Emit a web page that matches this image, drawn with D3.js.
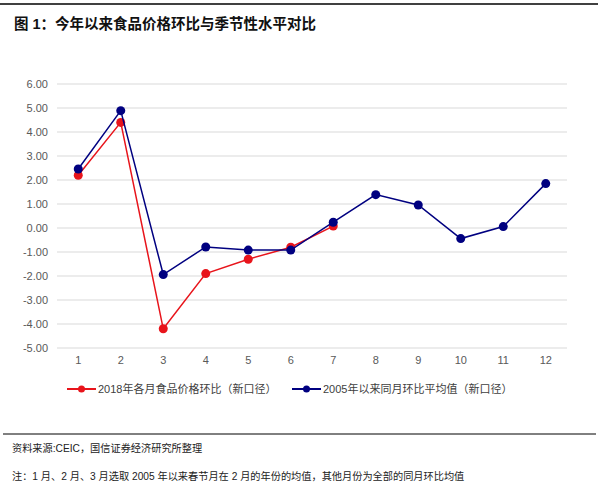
<!DOCTYPE html>
<html>
<head>
<meta charset="utf-8">
<script src="https://cdn.jsdelivr.net/npm/d3@7"></script>
<style>
  body { margin: 0; background: #fff; }
  text { font-family: "Liberation Sans", Arial, "Noto Sans CJK SC", sans-serif; }
</style>
</head>
<body>
<div id="chart"></div>
<script>
// months on the x axis
const months = ["1", "2", "3", "4", "5", "6", "7", "8", "9", "10", "11", "12"];
// 2018 monthly food price mom (only Jan-Jul)
const food2018 = [2.2, 4.4, -4.2, -1.9, -1.3, -0.8, 0.08];
// average mom of the same month since 2005
const avgSince2005 = [2.46, 4.89, -1.94, -0.79, -0.92, -0.92, 0.24, 1.39, 0.96, -0.44, 0.06, 1.85];
const yTicks = [6, 5, 4, 3, 2, 1, 0, -1, -2, -3, -4, -5];

const W = 598, H = 490;
const svg = d3.select("#chart").append("svg")
  .attr("width", W)
  .attr("height", H);

// header / footer rules
svg.append("line").attr("x1", 0).attr("x2", W).attr("y1", 4).attr("y2", 4)
  .attr("stroke", "#000").attr("stroke-width", 1.5);
svg.append("text").attr("x", 14).attr("y", 29)
  .attr("font-size", 14.5).attr("font-weight", "bold").attr("fill", "#111")
  .text("图 1：今年以来食品价格环比与季节性水平对比");

const x = d3.scaleBand().domain(months).range([57, 567]);
const y = d3.scaleLinear().domain([-5, 6]).range([348, 84]);

// gridlines
svg.append("g").selectAll("line")
  .data(yTicks)
  .enter()
  .append("line")
  .attr("x1", 57).attr("x2", 567)
  .attr("y1", (d) => y(d)).attr("y2", (d) => y(d))
  .attr("stroke", "#d9d9d9").attr("stroke-width", 1);

// y labels
svg.append("g").selectAll("text")
  .data(yTicks)
  .enter()
  .append("text")
  .attr("x", 48)
  .attr("y", (d) => y(d) + 4)
  .attr("text-anchor", "end")
  .attr("font-size", 11)
  .attr("fill", "#595959")
  .text((d) => d.toFixed(2));

// x labels
svg.append("g").selectAll("text")
  .data(months)
  .enter()
  .append("text")
  .attr("x", (d) => x(d) + x.bandwidth() / 2)
  .attr("y", 364)
  .attr("text-anchor", "middle")
  .attr("font-size", 11)
  .attr("fill", "#595959")
  .text((d) => d);

const cx = (i) => x(months[i]) + x.bandwidth() / 2;
const line = d3.line().x((d, i) => cx(i)).y((d) => y(d));

const series = [
  { values: food2018, color: "#e8141b" },
  { values: avgSince2005, color: "#000080" }
];

series.forEach((s) => {
  svg.append("path")
    .attr("d", line(s.values))
    .attr("fill", "none")
    .attr("stroke", s.color)
    .attr("stroke-width", 1.5);
  svg.append("g").selectAll("circle")
    .data(s.values)
    .enter()
    .append("circle")
    .attr("cx", (d, i) => cx(i))
    .attr("cy", (d) => y(d))
    .attr("r", 4.5)
    .attr("fill", s.color);
});

// legend
const legend = [
  { label: "2018年各月食品价格环比（新口径）", color: "#e8141b", x: 67 },
  { label: "2005年以来同月环比平均值（新口径）", color: "#000080", x: 292 }
];
legend.forEach((l) => {
  svg.append("line").attr("x1", l.x).attr("x2", l.x + 29).attr("y1", 389).attr("y2", 389)
    .attr("stroke", l.color).attr("stroke-width", 2);
  svg.append("circle").attr("cx", l.x + 14.5).attr("cy", 389).attr("r", 3.5).attr("fill", l.color);
  svg.append("text").attr("x", l.x + 31).attr("y", 393)
    .attr("font-size", 11).attr("fill", "#404040").text(l.label);
});

svg.append("line").attr("x1", 3).attr("x2", 596).attr("y1", 434).attr("y2", 434)
  .attr("stroke", "#000").attr("stroke-width", 1);
svg.append("text").attr("x", 12).attr("y", 452)
  .attr("font-size", 10.2).attr("fill", "#222")
  .text("资料来源:CEIC，国信证券经济研究所整理");
svg.append("text").attr("x", 12).attr("y", 480)
  .attr("font-size", 10.2).attr("fill", "#222")
  .text("注：1 月、2 月、3 月选取 2005 年以来春节月在 2 月的年份的均值，其他月份为全部的同月环比均值");
</script>
</body>
</html>
